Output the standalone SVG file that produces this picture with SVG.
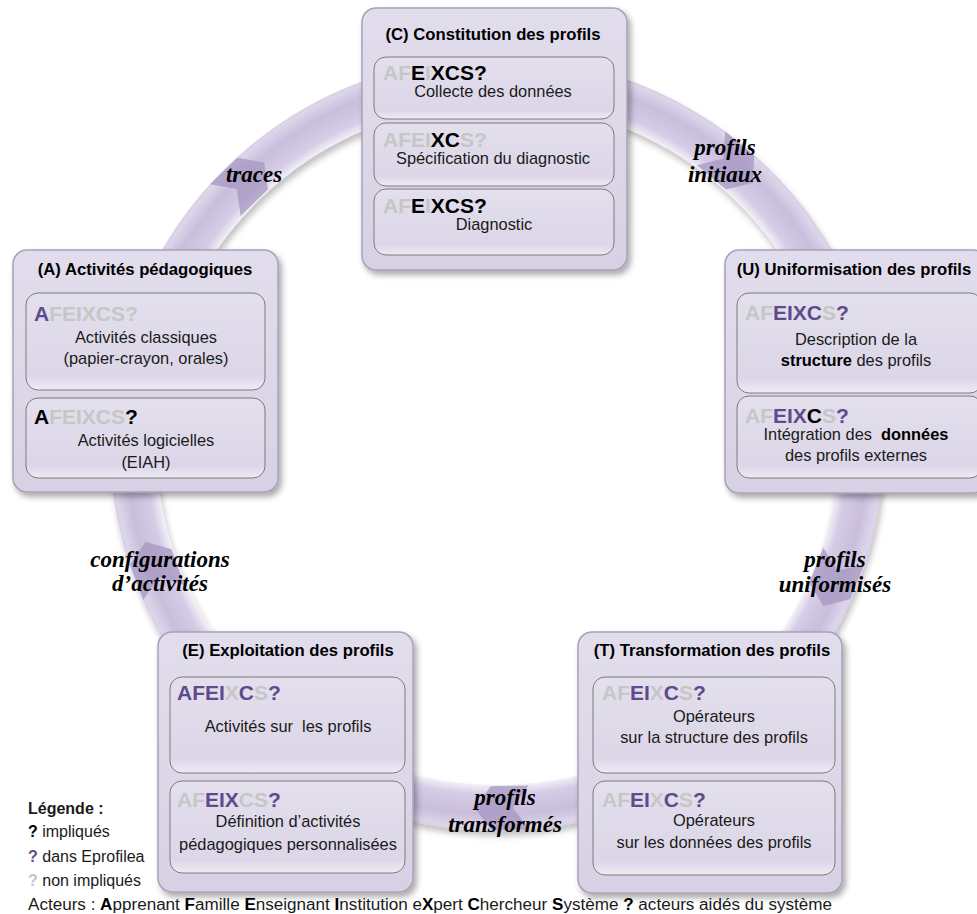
<svg xmlns="http://www.w3.org/2000/svg" width="977" height="914" viewBox="0 0 977 914">
<style>
.ttl{font-family:"Liberation Sans",Arial,sans-serif;font-weight:bold;font-size:16.7px;text-anchor:middle;fill:#000}
.txt{font-family:"Liberation Sans",Arial,sans-serif;font-size:16.4px;text-anchor:middle;fill:#1a1a1a}
.act{font-family:"Liberation Sans",Arial,sans-serif;font-weight:bold;font-size:21px}
.g{fill:#c6c6c6}.p{fill:#5f4b8b}.k{fill:#000}
.lbl{font-family:"Liberation Serif","Times New Roman",serif;font-style:italic;font-weight:bold;font-size:23px;text-anchor:middle;fill:#000}
.leg{font-family:"Liberation Sans",Arial,sans-serif;font-size:16px;fill:#1a1a1a}
.outer{fill:url(#og);stroke:#a8a0b8;stroke-width:1.5;filter:url(#sh)}
.inner{fill:url(#ig);stroke:#7b7b7b;stroke-width:1}
.chev{fill:#a596c2;opacity:.75}
</style>
<defs>
<linearGradient id="og" x1="0" y1="0" x2="0" y2="1"><stop offset="0" stop-color="#e2ddec"/><stop offset="1" stop-color="#d8d1e5"/></linearGradient>
<linearGradient id="ig" x1="0" y1="0" x2="0" y2="1"><stop offset="0" stop-color="#e3dfec"/><stop offset="0.85" stop-color="#dcd6e8"/><stop offset="1" stop-color="#eeebf4"/></linearGradient>
<radialGradient id="rg" gradientUnits="userSpaceOnUse" cx="497" cy="444" r="390">
<stop offset="0.875" stop-color="#f2eff7"/><stop offset="0.9" stop-color="#d5cce6"/><stop offset="0.95" stop-color="#c9bedc"/><stop offset="0.985" stop-color="#ddd6ea"/><stop offset="1" stop-color="#cfc6e0"/></radialGradient>
<filter id="sh" x="-10%" y="-10%" width="125%" height="125%"><feGaussianBlur in="SourceAlpha" stdDeviation="3"/><feOffset dx="3" dy="4"/><feComponentTransfer><feFuncA type="linear" slope="0.35"/></feComponentTransfer><feMerge><feMergeNode/><feMergeNode in="SourceGraphic"/></feMerge></filter>
<filter id="rs" x="-10%" y="-10%" width="120%" height="120%"><feGaussianBlur in="SourceAlpha" stdDeviation="3"/><feOffset dx="2" dy="5"/><feComponentTransfer><feFuncA type="linear" slope="0.25"/></feComponentTransfer><feMerge><feMergeNode/><feMergeNode in="SourceGraphic"/></feMerge></filter>
<polygon id="chv" points="-26,-22 12,-22 28,0 12,22 -26,22 -10,0"/>
</defs>
<rect width="977" height="914" fill="#fff"/>
<g id="connectors">
<circle cx="497" cy="444" r="364" fill="none" stroke="url(#rg)" stroke-width="46" filter="url(#rs)"/>
<use href="#chv" class="chev" transform="translate(244,182) rotate(-44)"/>
<use href="#chv" class="chev" transform="translate(731,165) rotate(40)"/>
<use href="#chv" class="chev" transform="translate(834,580) rotate(112)"/>
<use href="#chv" class="chev" transform="translate(503,808) rotate(179)"/>
<use href="#chv" class="chev" transform="translate(155,568) rotate(250)"/>
<text class="lbl" x="254" y="182">traces</text>
<text class="lbl" x="725" y="155">profils</text>
<text class="lbl" x="725" y="182">initiaux</text>
<text class="lbl" x="835" y="567">profils</text>
<text class="lbl" x="835" y="592">uniformisés</text>
<text class="lbl" x="505" y="805">profils</text>
<text class="lbl" x="505" y="832">transformés</text>
<text class="lbl" x="160" y="567">configurations</text>
<text class="lbl" x="160" y="591">d’activités</text>
</g>
<g id="nodeC">
<rect class="outer" x="362" y="8" width="265" height="262" rx="14"/>
<text class="ttl" x="493" y="40">(C) Constitution des profils</text>
<rect class="inner" x="374" y="57" width="240" height="62" rx="12"/>
<text class="act" x="383" y="80"><tspan class="g">AF</tspan><tspan class="k">E</tspan><tspan class="g">I</tspan><tspan class="k">XCS?</tspan></text>
<text class="txt" x="493" y="97">Collecte des données</text>
<rect class="inner" x="374" y="123" width="240" height="63" rx="12"/>
<text class="act" x="383" y="147"><tspan class="g">AFEI</tspan><tspan class="k">XC</tspan><tspan class="g">S?</tspan></text>
<text class="txt" x="493" y="164">Spécification du diagnostic</text>
<rect class="inner" x="374" y="189" width="240" height="66" rx="12"/>
<text class="act" x="383" y="213"><tspan class="g">AF</tspan><tspan class="k">E</tspan><tspan class="g">I</tspan><tspan class="k">XCS?</tspan></text>
<text class="txt" x="494" y="230">Diagnostic</text>
</g>
<g id="nodeA">
<rect class="outer" x="13" y="250" width="265" height="242" rx="14"/>
<text class="ttl" x="145" y="275">(A) Activités pédagogiques</text>
<rect class="inner" x="26" y="293" width="239" height="97" rx="12"/>
<text class="act" x="34" y="321"><tspan class="p">A</tspan><tspan class="g">FEIXCS?</tspan></text>
<text class="txt" x="146" y="343">Activités classiques</text>
<text class="txt" x="146" y="364">(papier-crayon, orales)</text>
<rect class="inner" x="26" y="398" width="239" height="80" rx="12"/>
<text class="act" x="34" y="424"><tspan class="k">A</tspan><tspan class="g">FEIXCS</tspan><tspan class="k">?</tspan></text>
<text class="txt" x="146" y="446">Activités logicielles</text>
<text class="txt" x="146" y="468">(EIAH)</text>
</g>
<g id="nodeU">
<rect class="outer" x="725" y="250" width="262" height="243" rx="14"/>
<text class="ttl" x="854" y="275">(U) Uniformisation des profils</text>
<rect class="inner" x="737" y="293" width="245" height="100" rx="12"/>
<text class="act" x="745" y="320"><tspan class="g">AF</tspan><tspan class="p">EIXC</tspan><tspan class="g">S</tspan><tspan class="p">?</tspan></text>
<text class="txt" x="856" y="345">Description de la</text>
<text class="txt" x="856" y="366"><tspan font-weight="bold" fill="#000">structure</tspan> des profils</text>
<rect class="inner" x="737" y="396" width="245" height="82" rx="12"/>
<text class="act" x="745" y="423"><tspan class="g">AF</tspan><tspan class="p">EIX</tspan><tspan class="k">C</tspan><tspan class="g">S</tspan><tspan class="p">?</tspan></text>
<text class="txt" x="856" y="440" xml:space="preserve">Intégration des  <tspan font-weight="bold" fill="#000">données</tspan></text>
<text class="txt" x="856" y="461">des profils externes</text>
</g>
<g id="nodeE">
<rect class="outer" x="158" y="632" width="255" height="260" rx="14"/>
<text class="ttl" x="288" y="656">(E) Exploitation des profils</text>
<rect class="inner" x="170" y="677" width="235" height="96" rx="12"/>
<text class="act" x="177" y="700"><tspan class="p">AFEI</tspan><tspan class="g">X</tspan><tspan class="p">C</tspan><tspan class="g">S</tspan><tspan class="p">?</tspan></text>
<text class="txt" x="288" y="732" xml:space="preserve">Activités sur  les profils</text>
<rect class="inner" x="170" y="781" width="235" height="92" rx="12"/>
<text class="act" x="177" y="807"><tspan class="g">AF</tspan><tspan class="p">EIX</tspan><tspan class="g">CS</tspan><tspan class="p">?</tspan></text>
<text class="txt" x="288" y="827">Définition d’activités</text>
<text class="txt" x="288" y="850">pédagogiques personnalisées</text>
</g>
<g id="nodeT">
<rect class="outer" x="578" y="632" width="264" height="261" rx="14"/>
<text class="ttl" x="712" y="656">(T) Transformation des profils</text>
<rect class="inner" x="593" y="677" width="242" height="96" rx="12"/>
<text class="act" x="602" y="700"><tspan class="g">AF</tspan><tspan class="p">EI</tspan><tspan class="g">X</tspan><tspan class="p">C</tspan><tspan class="g">S</tspan><tspan class="p">?</tspan></text>
<text class="txt" x="714" y="722">Opérateurs</text>
<text class="txt" x="714" y="743">sur la structure des profils</text>
<rect class="inner" x="593" y="781" width="242" height="94" rx="12"/>
<text class="act" x="602" y="807"><tspan class="g">AF</tspan><tspan class="p">EI</tspan><tspan class="g">X</tspan><tspan class="p">C</tspan><tspan class="g">S</tspan><tspan class="p">?</tspan></text>
<text class="txt" x="714" y="826">Opérateurs</text>
<text class="txt" x="714" y="848">sur les données des profils</text>
</g>
<g id="legend">
<text class="leg" x="28" y="814" font-weight="bold" fill="#000">Légende :</text>
<text class="leg" x="28" y="837"><tspan font-weight="bold" fill="#000">?</tspan> impliqués</text>
<text class="leg" x="28" y="862"><tspan font-weight="bold" fill="#5f4b8b">?</tspan> dans Eprofilea</text>
<text class="leg" x="28" y="886"><tspan font-weight="bold" fill="#c6c6c6">?</tspan> non impliqués</text>
<text class="leg" x="28" y="910" font-size="17px" textLength="804" lengthAdjust="spacingAndGlyphs">Acteurs : <tspan font-weight="bold" fill="#000">A</tspan>pprenant <tspan font-weight="bold" fill="#000">F</tspan>amille <tspan font-weight="bold" fill="#000">E</tspan>nseignant <tspan font-weight="bold" fill="#000">I</tspan>nstitution e<tspan font-weight="bold" fill="#000">X</tspan>pert <tspan font-weight="bold" fill="#000">C</tspan>hercheur <tspan font-weight="bold" fill="#000">S</tspan>ystème <tspan font-weight="bold" fill="#000">?</tspan> acteurs aidés du système</text>
</g>
</svg>
